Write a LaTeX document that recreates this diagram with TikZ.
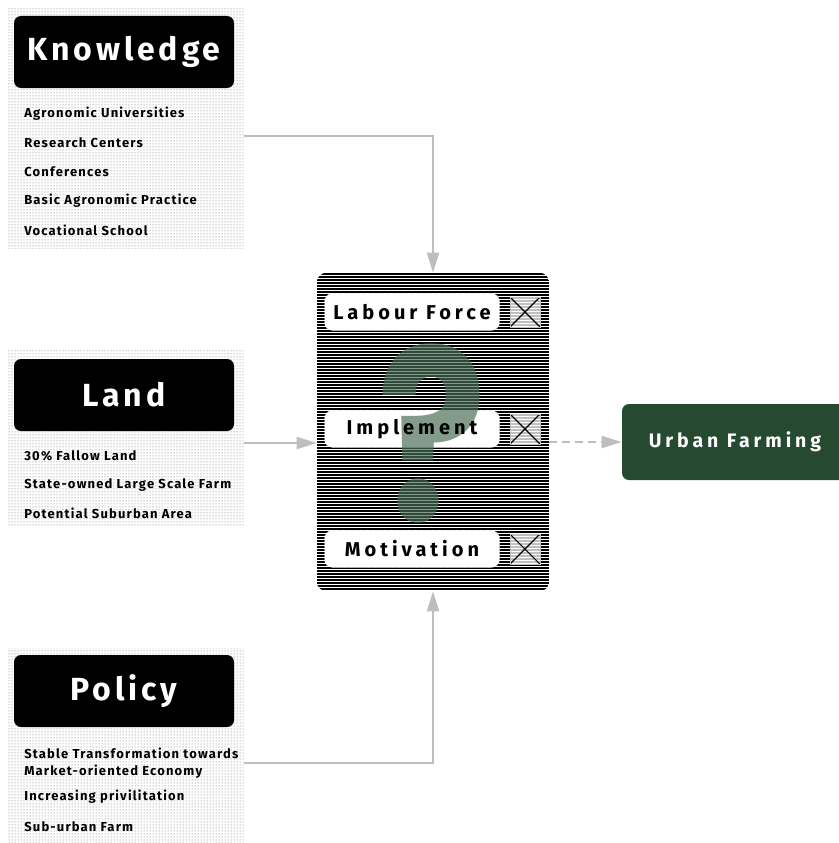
\documentclass[tikz,border=0pt]{standalone}
\usepackage{fontspec}
\usetikzlibrary{positioning,patterns,arrows.meta}

\newfontfamily\headfont[LetterSpace=12]{Fira Sans}
\newfontfamily\listfont[LetterSpace=9]{Fira Sans}
\newfontfamily\slotfont[LetterSpace=20]{Fira Sans}
\newfontfamily\qfont{Poppins}

\definecolor{farmgreen}{RGB}{38,74,48}
\definecolor{qgreen}{RGB}{72,108,84}
\definecolor{linkgray}{RGB}{190,190,190}

\begin{document}
\begin{tikzpicture}[x=1pt,y=-1pt,>={Triangle[length=20pt,width=12pt]},semithick]
      \tikzstyle{patch}=[pattern=dots,pattern color=black!60,anchor=north west,inner sep=0pt,minimum width=236pt]
      \tikzstyle{title}=[fill=black,rounded corners=7pt,text=white,minimum width=220pt,minimum height=72pt,font=\headfont\bfseries\fontsize{32}{32}\selectfont]
      \tikzstyle{item}=[anchor=west,inner sep=0pt,align=left,font=\listfont\bfseries\fontsize{13}{17}\selectfont]
      \tikzstyle{slot}=[fill=white,draw=gray!40,dashed,thin,rounded corners=8pt,minimum width=175pt,minimum height=37pt]
      \tikzstyle{slottext}=[font=\slotfont\bfseries\fontsize{20}{20}\selectfont]
      \tikzstyle{xbox}=[fill=white,fill opacity=.75,draw=gray!50,thin,minimum size=30pt,inner sep=0pt,
                        path picture={\draw[black,line width=1.2pt] (path picture bounding box.south west) -- (path picture bounding box.north east)
                                      (path picture bounding box.north west) -- (path picture bounding box.south east);}]
      \tikzstyle{goal}=[fill=farmgreen,rounded corners=7pt,text=white,minimum width=226pt,minimum height=76pt,font=\slotfont\bfseries\fontsize{19.5}{19.5}\selectfont]
      \tikzstyle{link}=[->,draw=linkgray,line width=2pt]

      \useasboundingbox (0,0) rectangle (838,843);

      % left column
      \node[patch,minimum height=241pt] (kpatch) at (7,7)   {};
      \node[patch,minimum height=175pt] (lpatch) at (7,350) {};
      \node[patch,minimum height=200pt] (ppatch) at (7,648) {};

      \node[title] (know)   at (124,52)  {Knowledge};
      \node[title] (land)   at (124,395) {Land};
      \node[title] (policy) at (124,691) {Policy};

      \foreach \t [count=\i] in {Agronomic Universities,Research Centers,Conferences,Basic Agronomic Practice,Vocational School}
        \node[item] (k\i) at (24,85+29*\i) {\t};

      \node[item] (l1) at (24,456) {30\% Fallow Land};
      \node[item] (l2) at (24,485) {State-owned Large Scale Farm};
      \node[item] (l3) at (24,513) {Potential Suburban Area};

      \node[item] (p1) at (24,763) {Stable Transformation towards\\Market-oriented Economy};
      \node[item] (p2) at (24,797) {Increasing privilitation};
      \node[item] (p3) at (24,827) {Sub-urban Farm};

      % the unknown in the middle
      \node[minimum width=232pt,minimum height=318pt,inner sep=0pt] (core) at (433,432) {};
      \begin{scope}
        \clip[rounded corners=10pt] (core.north west) rectangle (core.south east);
        \foreach \y in {274,277,...,591}
          \draw[line width=1.3pt] (core.west |- 0,\y) -- (core.east |- 0,\y);
      \end{scope}

      \node[slot] (labour)    at (412,312) {};
      \node[slot] (implement) at (412,429) {};
      \node[slot] (motive)    at (412,549) {};

      \node[text=qgreen,opacity=.68,inner sep=0pt,font=\qfont\bfseries\fontsize{240}{240}\selectfont] (qmark) at (432,434) {\scalebox{.85}[1]{?}};

      \node[slottext] (labourt)    at (labour)    {Labour Force};
      \node[slottext] (implementt) at (implement) {Implement};
      \node[slottext] (motivet)    at (motive)    {Motivation};
      \node[xbox] (labourx)    [right=10pt of labour]    {};
      \node[xbox] (implementx) [right=10pt of implement] {};
      \node[xbox] (motivex)    [right=10pt of motive]    {};

      \node[goal] (farm) at (735,442) {Urban Farming};

      % connectors
      \coordinate (kout) at (kpatch.east |- 0,136);
      \coordinate (lout) at (lpatch.east |- 0,443);
      \coordinate (pout) at (ppatch.east |- 0,763);

      \draw[link] (kout) -| (core.north);
      \draw[link] (lout) -- (lout -| core.west);
      \draw[link] (pout) -| (core.south);
      \draw[link,dash pattern=on 8pt off 5pt] (core.east |- farm.west) -- (farm.west);
\end{tikzpicture}
\end{document}
